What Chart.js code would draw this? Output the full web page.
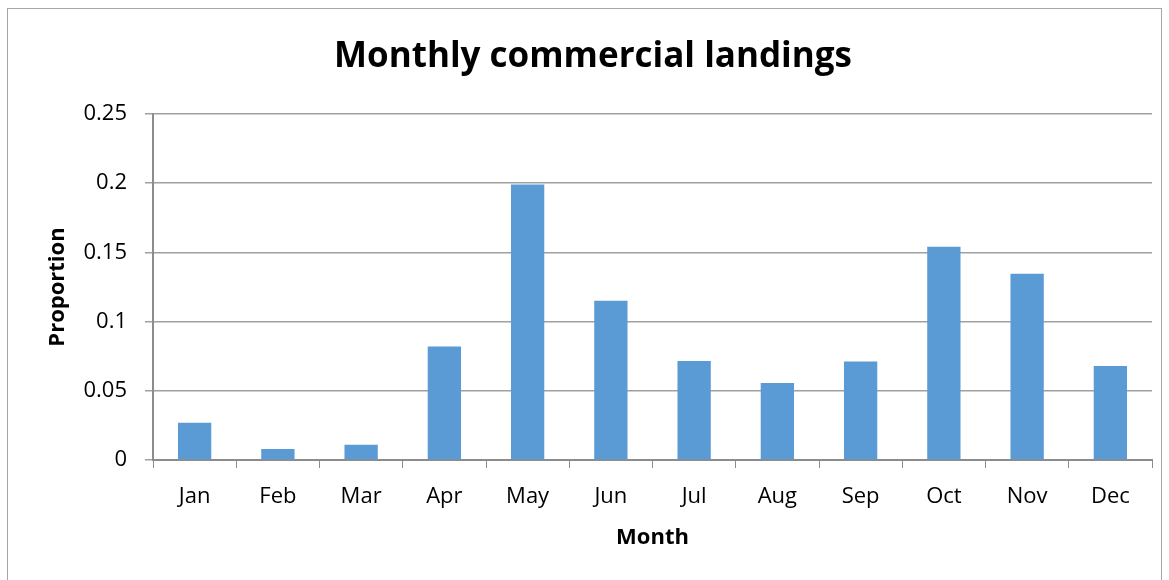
<!DOCTYPE html>
<html>
<head>
<meta charset="utf-8">
<script src="https://cdn.jsdelivr.net/npm/chart.js@4"></script>
<style>
  html, body { margin: 0; padding: 0; background: #fff; }
  #wrap { width: 1169px; height: 580px; position: relative; }
</style>
</head>
<body>
<div id="wrap"><canvas id="c" width="1169" height="580"></canvas></div>
<script>
// Monthly share of commercial landings
const months = ['Jan', 'Feb', 'Mar', 'Apr', 'May', 'Jun', 'Jul', 'Aug', 'Sep', 'Oct', 'Nov', 'Dec'];
const proportion = [0.027, 0.008, 0.011, 0.082, 0.199, 0.115, 0.0715, 0.0556, 0.0712, 0.154, 0.1345, 0.068];
const yTicks = [0, 0.05, 0.1, 0.15, 0.2, 0.25];
const yTickText = ['0', '0.05', '0.1', '0.15', '0.2', '0.25'];

const FONT = '"Open Sans", Lato, sans-serif';

// light frame around the whole chart
const framePlugin = {
  id: 'frame',
  beforeDraw(chart) {
    const ctx = chart.ctx;
    ctx.save();
    ctx.fillStyle = '#fff';
    ctx.fillRect(0, 0, chart.width, chart.height);
    ctx.strokeStyle = '#a6a6a6';
    ctx.lineWidth = 1;
    ctx.strokeRect(7.5, 8.5, 1154, 600);
    ctx.restore();
  }
};

new Chart(document.getElementById('c'), {
  type: 'bar',
  data: {
    labels: months,
    datasets: [{
      label: 'Proportion',
      data: proportion,
      backgroundColor: '#5b9bd5',
      borderWidth: 0,
      categoryPercentage: 1.0,
      barPercentage: 0.4
    }]
  },
  options: {
    responsive: false,
    animation: false,
    devicePixelRatio: 1,
    layout: { padding: { left: 34, right: 17, top: 36, bottom: 20 } },
    plugins: {
      legend: { display: false },
      tooltip: { enabled: false },
      title: {
        display: true,
        text: 'Monthly commercial landings',
        color: '#000',
        font: { family: FONT, size: 35, weight: 'bold' },
        padding: { top: 0, bottom: 36 }
      }
    },
    scales: {
      x: {
        offset: true,
        grid: {
          offset: true,
          drawOnChartArea: false,
          drawTicks: true,
          tickLength: 8,
          color: '#8c8c8c',
          tickColor: '#8c8c8c'
        },
        border: { color: '#8c8c8c', width: 2 },
        ticks: {
          color: '#000',
          padding: 16,
          font: { family: FONT, size: 22 }
        },
        title: {
          display: true,
          text: 'Month',
          color: '#000',
          font: { family: FONT, size: 22, weight: 'bold' },
          padding: { top: 0, bottom: 9 }
        },
        afterFit(scale) { scale.height = 100; }
      },
      y: {
        min: 0,
        max: 0.25,
        afterBuildTicks(scale) {
          scale.ticks = yTicks.map(v => ({ value: v }));
        },
        grid: {
          color: '#a0a0a0',
          tickColor: '#a0a0a0',
          lineWidth: 1.5,
          drawTicks: true,
          tickLength: 8
        },
        border: { color: '#8c8c8c', width: 2 },
        ticks: {
          color: '#000',
          padding: 18,
          font: { family: FONT, size: 22 },
          callback(value, index) { return yTickText[index]; }
        },
        title: {
          display: true,
          text: 'Proportion',
          color: '#000',
          font: { family: FONT, size: 22, weight: 'bold' },
          padding: { top: 11, bottom: 0 }
        },
        afterFit(scale) { scale.width = 153 - 34; }
      }
    }
  },
  plugins: [framePlugin]
});
</script>
</body>
</html>
